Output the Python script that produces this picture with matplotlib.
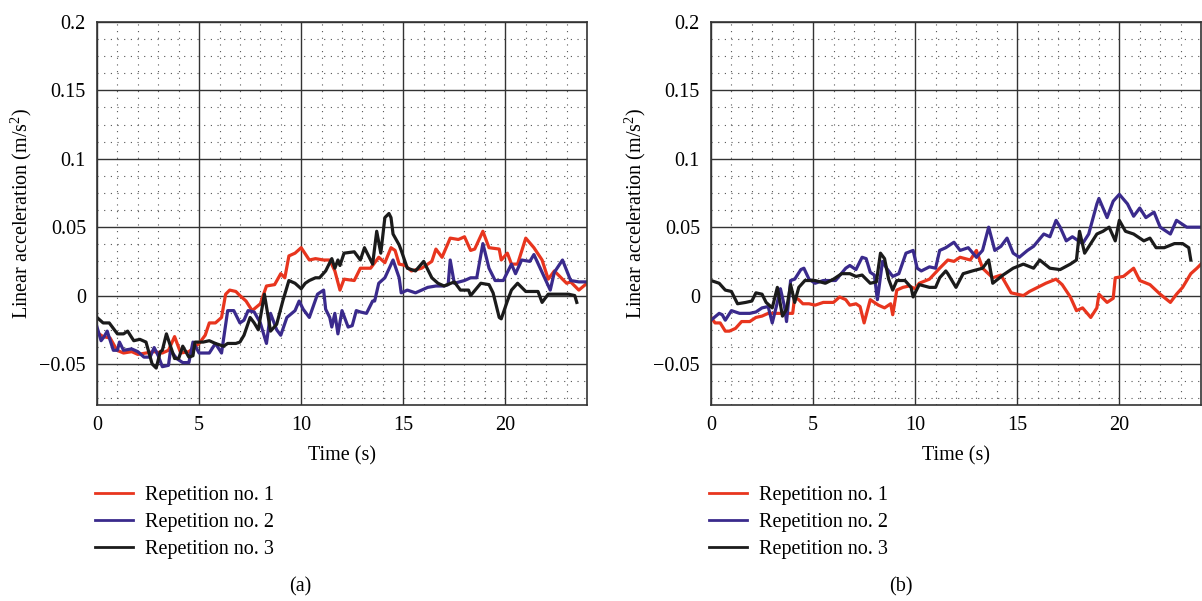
import matplotlib
matplotlib.use("Agg")
import matplotlib.pyplot as plt
from matplotlib.ticker import MultipleLocator, FuncFormatter
from matplotlib.lines import Line2D

plt.rcParams['font.family'] = ['Liberation Serif', 'DejaVu Serif']
plt.rcParams['mathtext.fontset'] = 'custom'
plt.rcParams['mathtext.rm'] = 'Liberation Serif'
plt.rcParams['mathtext.it'] = 'Liberation Serif:italic'

# ---------------- data (time s, linear acceleration m/s^2) ----------------
series_labels = ["Repetition no. 1", "Repetition no. 2", "Repetition no. 3"]
panel_labels = ["(a)", "(b)"]

rep1_a = [(0,-0.027),(0.3,-0.030),(0.64,-0.031),(0.98,-0.040),(1.3,-0.042),(1.7,-0.041),(2.0,-0.043),(2.4,-0.042),
          (2.8,-0.041),(3.2,-0.042),(3.5,-0.040),(3.8,-0.030),(4.1,-0.042),(4.5,-0.041),(5.0,-0.035),(5.3,-0.029),
          (5.5,-0.020),(5.8,-0.020),(6.1,-0.016),(6.3,0.001),(6.5,0.004),(6.8,0.003),(7.0,0.000),(7.3,-0.004),
          (7.6,-0.011),(8.0,-0.006),(8.3,0.007),(8.7,0.008),(9.0,0.016),(9.2,0.013),(9.4,0.029),(9.7,0.031),
          (10.0,0.035),(10.4,0.026),(10.7,0.027),(11.1,0.026),(11.4,0.026),(11.65,0.018),(11.9,0.004),(12.1,0.012),
          (12.6,0.011),(12.9,0.020),(13.4,0.020),(13.8,0.028),(14.1,0.024),(14.4,0.035),(14.6,0.033),(14.8,0.023),
          (15.1,0.022),(15.4,0.018),(15.9,0.020),(16.4,0.025),(16.6,0.034),(16.9,0.028),(17.3,0.042),(17.7,0.041),
          (18.0,0.043),(18.3,0.033),(18.5,0.034),(18.9,0.047),(19.2,0.035),(19.7,0.034),(19.8,0.026),(20.1,0.031),
          (20.3,0.023),(20.6,0.023),(21.0,0.042),(21.4,0.035),(21.8,0.026),(22.1,0.012),(22.4,0.018),(23.0,0.009),
          (23.2,0.010),(23.6,0.004),(24.0,0.009)]

rep2_a = [(0,-0.023),(0.2,-0.033),(0.35,-0.030),(0.5,-0.026),(0.8,-0.040),(1.0,-0.040),(1.1,-0.034),(1.3,-0.040),
          (1.7,-0.039),(2.0,-0.041),(2.3,-0.045),(2.6,-0.045),(2.8,-0.038),(3.0,-0.044),(3.2,-0.052),(3.5,-0.051),
          (3.6,-0.040),(3.9,-0.046),(4.2,-0.049),(4.5,-0.049),(4.7,-0.034),(5.0,-0.042),(5.5,-0.042),(5.8,-0.035),
          (6.1,-0.042),(6.4,-0.011),(6.7,-0.011),(7.0,-0.020),(7.2,-0.018),(7.4,-0.011),(7.7,-0.012),(8.0,-0.020),
          (8.3,-0.035),(8.5,-0.013),(8.8,-0.025),(9.0,-0.029),(9.3,-0.016),(9.7,-0.011),(9.9,-0.004),(10.1,-0.010),
          (10.4,-0.016),(10.8,0.001),(11.1,0.004),(11.2,-0.010),(11.4,-0.016),(11.5,-0.023),(11.65,-0.013),(11.8,-0.028),
          (12.0,-0.011),(12.3,-0.023),(12.5,-0.022),(12.7,-0.011),(12.9,-0.012),(13.2,-0.013),(13.5,-0.004),(13.6,-0.004),
          (13.8,0.009),(14.1,0.013),(14.5,0.026),(14.8,0.013),(14.9,0.002),(15.2,0.004),(15.6,0.002),(15.9,0.004),
          (16.2,0.006),(16.6,0.007),(17.0,0.007),(17.2,0.008),(17.3,0.026),(17.5,0.009),(18.0,0.011),(18.3,0.013),
          (18.6,0.013),(18.9,0.038),(19.2,0.020),(19.5,0.011),(19.9,0.011),(20.3,0.023),(20.5,0.016),(20.8,0.026),
          (21.2,0.025),(21.4,0.030),(21.8,0.017),(22.2,0.004),(22.4,0.017),(22.8,0.026),(23.2,0.011),(23.6,0.010),
          (24.0,0.010)]

rep3_a = [(0,-0.016),(0.3,-0.020),(0.6,-0.020),(1.0,-0.028),(1.3,-0.028),(1.5,-0.026),(1.8,-0.033),(2.1,-0.032),
          (2.4,-0.034),(2.7,-0.050),(2.9,-0.053),(3.1,-0.041),(3.2,-0.040),(3.4,-0.028),(3.6,-0.037),(3.8,-0.046),
          (4.0,-0.046),(4.2,-0.037),(4.5,-0.045),(4.7,-0.044),(4.8,-0.034),(5.2,-0.034),(5.5,-0.033),(5.8,-0.035),
          (6.2,-0.037),(6.4,-0.035),(6.8,-0.035),(7.0,-0.034),(7.2,-0.029),(7.5,-0.016),(7.7,-0.020),(7.9,-0.025),
          (8.2,0.001),(8.5,-0.026),(8.8,-0.021),(9.1,-0.004),(9.4,0.011),(9.7,0.009),(10.0,0.005),(10.2,0.009),
          (10.4,0.011),(10.7,0.013),(10.9,0.013),(11.2,0.018),(11.5,0.027),(11.65,0.020),(11.8,0.026),(11.9,0.022),
          (12.1,0.031),(12.6,0.032),(12.9,0.026),(13.1,0.035),(13.5,0.023),(13.7,0.047),(13.9,0.031),(14.1,0.057),
          (14.3,0.060),(14.4,0.057),(14.5,0.045),(14.8,0.037),(14.9,0.033),(15.2,0.020),(15.6,0.018),(16.0,0.025),
          (16.4,0.013),(16.7,0.009),(17.0,0.007),(17.5,0.010),(17.8,0.004),(18.2,0.004),(18.3,0.000),(18.8,0.009),
          (19.2,0.008),(19.4,0.002),(19.7,-0.016),(19.8,-0.017),(20.1,-0.004),(20.3,0.004),(20.6,0.009),(21.0,0.003),
          (21.6,0.003),(21.8,-0.005),(22.1,0.001),(22.6,0.001),(23.1,0.001),(23.4,0.000),(23.5,-0.005)]

rep1_b = [(0,-0.016),(0.2,-0.020),(0.45,-0.020),(0.7,-0.026),(0.9,-0.026),(1.2,-0.024),(1.5,-0.019),(1.9,-0.019),
          (2.2,-0.016),(2.5,-0.015),(2.8,-0.013),(3.5,-0.013),(4.0,-0.013),(4.1,-0.001),(4.3,-0.003),(4.5,-0.006),
          (4.8,-0.006),(5.1,-0.007),(5.5,-0.005),(6.0,-0.005),(6.3,-0.001),(6.6,-0.003),(6.8,-0.007),(7.1,-0.006),
          (7.3,-0.008),(7.5,-0.020),(7.8,-0.003),(8.2,-0.007),(8.5,-0.009),(8.8,-0.006),(8.9,-0.014),(9.1,0.004),
          (9.4,0.006),(9.7,0.007),(10.0,0.005),(10.2,0.009),(10.7,0.012),(11.2,0.020),(11.6,0.026),(11.9,0.025),
          (12.2,0.028),(12.7,0.026),(13.0,0.033),(13.3,0.020),(13.8,0.013),(14.2,0.015),(14.7,0.002),(15.0,0.001),
          (15.3,0.000),(15.6,0.003),(16.0,0.006),(16.4,0.009),(16.9,0.012),(17.2,0.008),(17.6,-0.001),(17.9,-0.011),
          (18.2,-0.009),(18.6,-0.016),(18.9,-0.009),(19.0,0.001),(19.4,-0.005),(19.7,-0.002),(19.8,0.013),(20.2,0.014),
          (20.7,0.020),(21.0,0.011),(21.5,0.008),(22.0,0.001),(22.5,-0.005),(22.8,0.001),(23.1,0.006),(23.5,0.016),
          (23.8,0.020),(24.0,0.023)]

rep2_b = [(0,-0.018),(0.4,-0.013),(0.55,-0.014),(0.7,-0.018),(1.0,-0.011),(1.4,-0.013),(1.9,-0.013),(2.2,-0.012),
          (2.5,-0.009),(2.8,-0.008),(3.0,-0.020),(3.2,-0.008),(3.4,0.005),(3.6,-0.008),(3.7,-0.019),(3.9,0.011),
          (4.1,0.012),(4.4,0.019),(4.55,0.020),(4.8,0.012),(5.1,0.009),(5.5,0.011),(5.8,0.011),(6.1,0.011),
          (6.6,0.020),(6.8,0.022),(7.1,0.019),(7.4,0.028),(7.6,0.027),(7.8,0.017),(8.0,0.015),(8.15,-0.003),
          (8.4,0.025),(8.6,0.020),(8.9,0.014),(9.2,0.016),(9.55,0.031),(9.9,0.033),(10.1,0.020),(10.3,0.018),
          (10.7,0.021),(11.0,0.020),(11.2,0.033),(11.5,0.035),(11.9,0.039),(12.2,0.033),(12.6,0.035),(13.0,0.028),
          (13.3,0.033),(13.6,0.050),(13.9,0.033),(14.2,0.036),(14.5,0.042),(14.8,0.031),(15.1,0.028),(15.5,0.033),
          (15.8,0.036),(16.3,0.045),(16.6,0.043),(16.9,0.055),(17.1,0.050),(17.4,0.040),(17.7,0.043),(18.2,0.038),
          (18.5,0.045),(18.9,0.067),(19.0,0.071),(19.4,0.057),(19.7,0.069),(20.0,0.074),(20.4,0.067),(20.7,0.058),
          (21.0,0.064),(21.3,0.057),(21.7,0.061),(22.0,0.050),(22.5,0.045),(22.8,0.055),(23.3,0.050),(23.6,0.050),
          (24.0,0.050)]

rep3_b = [(0,0.011),(0.4,0.009),(0.7,0.004),(1.0,0.003),(1.3,-0.006),(1.7,-0.005),(2.0,-0.004),(2.2,0.002),
          (2.5,0.001),(2.7,-0.005),(3.0,-0.009),(3.25,0.006),(3.5,-0.015),(3.7,-0.010),(3.9,0.008),(4.1,-0.005),
          (4.3,0.006),(4.6,0.011),(5.1,0.011),(5.6,0.009),(6.0,0.012),(6.4,0.016),(6.8,0.016),(7.1,0.014),
          (7.4,0.015),(7.8,0.009),(8.1,0.010),(8.3,0.031),(8.5,0.027),(8.7,0.012),(8.9,0.004),(9.1,0.011),
          (9.5,0.011),(9.8,0.006),(9.9,-0.001),(10.2,0.008),(10.7,0.006),(11.0,0.006),(11.2,0.013),(11.5,0.018),
          (11.6,0.016),(12.0,0.006),(12.35,0.016),(12.8,0.018),(13.3,0.020),(13.6,0.026),(13.8,0.009),(14.3,0.015),
          (14.8,0.020),(15.3,0.023),(15.8,0.020),(16.1,0.026),(16.6,0.020),(17.1,0.019),(17.6,0.023),(17.9,0.026),
          (18.05,0.047),(18.3,0.031),(18.6,0.038),(18.9,0.045),(19.2,0.047),(19.5,0.050),(19.8,0.040),(20.0,0.055),
          (20.3,0.047),(20.7,0.045),(21.2,0.040),(21.5,0.042),(21.8,0.035),(22.2,0.035),(22.7,0.038),(23.1,0.038),
          (23.4,0.035),(23.5,0.026)]

panels = [[rep1_a, rep2_a, rep3_a], [rep1_b, rep2_b, rep3_b]]
colors = ["#e8351e", "#3a2a8c", "#1b1b1b"]

# ---------------- figure ----------------
W, H = 1202, 601
fig = plt.figure(figsize=(W / 100, H / 100), dpi=100)
FS = 14.5

def fmt(v, pos):
    if abs(v) < 1e-9:
        return "0"
    s = ("%.2f" % v).rstrip("0").rstrip(".")
    return s.replace("-", "\u2212")

ax_lefts = [97, 711]
centers = [300, 901]
for k, (series, axl) in enumerate(zip(panels, ax_lefts)):
    ax = fig.add_axes([axl / W, (H - 405) / H, 490 / W, 383 / H])
    for data, c, lab in zip(series, colors, series_labels):
        t = [p[0] for p in data]
        v = [p[1] for p in data]
        ax.plot(t, v, color=c, lw=2.3, label=lab, solid_joinstyle='round')
    ax.set_xlim(0, 24)
    ax.set_ylim(-0.08, 0.2)
    ax.xaxis.set_major_locator(MultipleLocator(5))
    ax.xaxis.set_minor_locator(MultipleLocator(1))
    ax.yaxis.set_major_locator(MultipleLocator(0.05))
    ax.yaxis.set_minor_locator(MultipleLocator(0.0125))
    ax.yaxis.set_major_formatter(FuncFormatter(fmt))
    ax.grid(which='major', color='#333333', lw=1.0, ls='-')
    ax.grid(which='minor', color='#555555', lw=0.8, ls=(0, (1, 5)))
    ax.set_axisbelow(True)
    ax.tick_params(which='both', length=0, labelsize=FS, pad=8)
    for sp in ax.spines.values():
        sp.set_color('#333333')
        sp.set_linewidth(1.2)
    ax.set_xlabel("Time (s)", fontsize=FS, labelpad=8)
    ax.set_ylabel("Linear acceleration (m/s$^2$)", fontsize=FS, labelpad=4)

    handles = [Line2D([], [], color=c, lw=2.0) for c in colors]
    fig.legend(handles, series_labels, loc='upper left',
               bbox_to_anchor=((axl - 2) / W, 1 - 486 / H), frameon=False,
               fontsize=FS, handlelength=1.9, handletextpad=0.6,
               labelspacing=0.4, borderpad=0, borderaxespad=0)
    fig.text(centers[k] / W, 1 - 587 / H, panel_labels[k], ha='center', va='center', fontsize=FS)

fig.savefig("out.png", dpi=100)
